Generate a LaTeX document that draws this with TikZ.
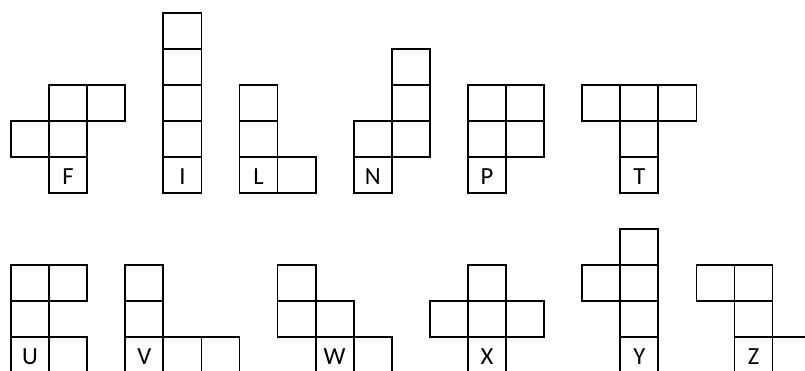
\documentclass[tikz,border=0pt]{standalone}
\usepackage{fontspec}
\newfontfamily\lblfont{Carlito}
\usepackage{tikz}

\begin{document}
\begin{tikzpicture}[x=1.1424cm, y=1.08cm,
    cell/.style={draw=black, line width=1.5pt},
    lbl/.style={anchor=base, inner sep=0pt, font=\lblfont\fontsize{21}{25}\selectfont}]
    % Rahmen wie im Original (unten/rechts angeschnitten)
    \useasboundingbox (-0.289,0.056) rectangle (20.851,10.361);
    \clip (-0.289,0.056) rectangle (20.851,10.361);

    % obere Reihe
    \foreach \x/\y in {1/5, 0/6, 1/6, 1/7, 2/7} {        % F
        \draw[cell] (\x,\y) rectangle ++(1,1);
    }
    \foreach \y in {5,...,9} {                             % I
        \draw[cell] (4,\y) rectangle ++(1,1);
    }
    \foreach \x/\y in {6/5, 7/5, 6/6, 6/7} {              % L
        \draw[cell] (\x,\y) rectangle ++(1,1);
    }
    \foreach \x/\y in {9/5, 9/6, 10/6, 10/7, 10/8} {      % N
        \draw[cell] (\x,\y) rectangle ++(1,1);
    }
    \foreach \x/\y in {12/5, 12/6, 13/6, 12/7, 13/7} {    % P
        \draw[cell] (\x,\y) rectangle ++(1,1);
    }
    \foreach \x/\y in {15/7, 16/7, 17/7, 16/6, 16/5} {    % T
        \draw[cell] (\x,\y) rectangle ++(1,1);
    }

    % untere Reihe
    \foreach \x/\y in {0/0, 1/0, 0/1, 0/2, 1/2} {         % U
        \draw[cell] (\x,\y) rectangle ++(1,1);
    }
    \foreach \x/\y in {3/0, 4/0, 5/0, 3/1, 3/2} {         % V
        \draw[cell] (\x,\y) rectangle ++(1,1);
    }
    \foreach \x/\y in {7/2, 7/1, 8/1, 8/0, 9/0} {         % W
        \draw[cell] (\x,\y) rectangle ++(1,1);
    }
    \foreach \x/\y in {12/2, 11/1, 12/1, 13/1, 12/0} {    % X
        \draw[cell] (\x,\y) rectangle ++(1,1);
    }
    \foreach \x/\y in {16/3, 15/2, 16/2, 16/1, 16/0} {    % Y
        \draw[cell] (\x,\y) rectangle ++(1,1);
    }
    \foreach \x/\y in {18/2, 19/2, 19/1, 19/0, 20/0} {    % Z
        \draw[cell] (\x,\y) rectangle ++(1,1);
    }

    % Buchstaben
    \node[lbl] (lF) at (1.5,5.24) {F};
    \node[lbl] (lI) at (4.5,5.24) {I};
    \node[lbl] (lL) at (6.5,5.24) {L};
    \node[lbl] (lN) at (9.5,5.24) {N};
    \node[lbl] (lP) at (12.5,5.24) {P};
    \node[lbl] (lT) at (16.5,5.24) {T};
    \node[lbl] (lU) at (0.5,0.24) {U};
    \node[lbl] (lV) at (3.5,0.24) {V};
    \node[lbl] (lW) at (8.5,0.24) {W};
    \node[lbl] (lX) at (12.5,0.24) {X};
    \node[lbl] (lY) at (16.5,0.24) {Y};
    \node[lbl] (lZ) at (19.5,0.24) {Z};
\end{tikzpicture}
\end{document}
